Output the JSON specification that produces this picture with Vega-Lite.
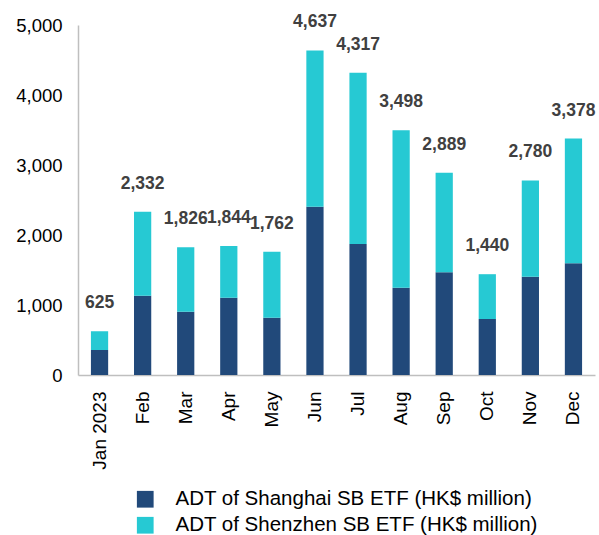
{
  "$schema": "https://vega.github.io/schema/vega-lite/v6.json",
  "width": 517,
  "height": 350,
  "autosize": {"type": "none"},
  "padding": {"left": 78, "top": 25, "right": 4, "bottom": 160},
  "background": "white",
  "config": {
    "view": {"stroke": null},
    "font": "Liberation Sans"
  },
  "datasets": {
    "bars": [
      {"month": "Jan 2023", "series": "ADT of Shanghai SB ETF (HK$ million)", "value": 357},
      {"month": "Jan 2023", "series": "ADT of Shenzhen SB ETF (HK$ million)", "value": 268},
      {"month": "Feb", "series": "ADT of Shanghai SB ETF (HK$ million)", "value": 1133},
      {"month": "Feb", "series": "ADT of Shenzhen SB ETF (HK$ million)", "value": 1199},
      {"month": "Mar", "series": "ADT of Shanghai SB ETF (HK$ million)", "value": 905},
      {"month": "Mar", "series": "ADT of Shenzhen SB ETF (HK$ million)", "value": 921},
      {"month": "Apr", "series": "ADT of Shanghai SB ETF (HK$ million)", "value": 1105},
      {"month": "Apr", "series": "ADT of Shenzhen SB ETF (HK$ million)", "value": 739},
      {"month": "May", "series": "ADT of Shanghai SB ETF (HK$ million)", "value": 819},
      {"month": "May", "series": "ADT of Shenzhen SB ETF (HK$ million)", "value": 943},
      {"month": "Jun", "series": "ADT of Shanghai SB ETF (HK$ million)", "value": 2405},
      {"month": "Jun", "series": "ADT of Shenzhen SB ETF (HK$ million)", "value": 2232},
      {"month": "Jul", "series": "ADT of Shanghai SB ETF (HK$ million)", "value": 1871},
      {"month": "Jul", "series": "ADT of Shenzhen SB ETF (HK$ million)", "value": 2446},
      {"month": "Aug", "series": "ADT of Shanghai SB ETF (HK$ million)", "value": 1248},
      {"month": "Aug", "series": "ADT of Shenzhen SB ETF (HK$ million)", "value": 2250},
      {"month": "Sep", "series": "ADT of Shanghai SB ETF (HK$ million)", "value": 1467},
      {"month": "Sep", "series": "ADT of Shenzhen SB ETF (HK$ million)", "value": 1422},
      {"month": "Oct", "series": "ADT of Shanghai SB ETF (HK$ million)", "value": 800},
      {"month": "Oct", "series": "ADT of Shenzhen SB ETF (HK$ million)", "value": 640},
      {"month": "Nov", "series": "ADT of Shanghai SB ETF (HK$ million)", "value": 1405},
      {"month": "Nov", "series": "ADT of Shenzhen SB ETF (HK$ million)", "value": 1375},
      {"month": "Dec", "series": "ADT of Shanghai SB ETF (HK$ million)", "value": 1595},
      {"month": "Dec", "series": "ADT of Shenzhen SB ETF (HK$ million)", "value": 1783}
    ],
    "totals": [
      {"month": "Jan 2023", "total": 625},
      {"month": "Feb", "total": 2332},
      {"month": "Mar", "total": 1826},
      {"month": "Apr", "total": 1844},
      {"month": "May", "total": 1762},
      {"month": "Jun", "total": 4637},
      {"month": "Jul", "total": 4317},
      {"month": "Aug", "total": 3498},
      {"month": "Sep", "total": 2889},
      {"month": "Oct", "total": 1440},
      {"month": "Nov", "total": 2780},
      {"month": "Dec", "total": 3378}
    ]
  },
  "encoding": {
    "x": {
      "field": "month",
      "type": "nominal",
      "sort": ["Jan 2023", "Feb", "Mar", "Apr", "May", "Jun", "Jul", "Aug", "Sep", "Oct", "Nov", "Dec"],
      "scale": {"paddingInner": 0.6, "paddingOuter": 0.3},
      "axis": {
        "title": null,
        "labelAngle": -90,
        "labelFontSize": 19,
        "labelColor": "#000000",
        "labelPadding": 16,
        "ticks": false,
        "domainColor": "#BFBFBF",
        "domainWidth": 1.5
      }
    }
  },
  "layer": [
    {
      "data": {"name": "bars"},
      "mark": {"type": "bar"},
      "encoding": {
        "y": {
          "field": "value",
          "type": "quantitative",
          "stack": "zero",
          "scale": {"domain": [0, 5000], "nice": false},
          "axis": {
            "title": null,
            "values": [0, 1000, 2000, 3000, 4000, 5000],
            "format": ",.0f",
            "labelFontSize": 18.5,
            "labelColor": "#000000",
            "labelPadding": 16,
            "ticks": false,
            "grid": false,
            "domainColor": "#BFBFBF",
            "domainWidth": 1.5
          }
        },
        "color": {
          "field": "series",
          "type": "nominal",
          "scale": {
            "domain": ["ADT of Shanghai SB ETF (HK$ million)", "ADT of Shenzhen SB ETF (HK$ million)"],
            "range": ["#21497A", "#26C9D3"]
          },
          "legend": {
            "title": null,
            "orient": "none",
            "legendX": 57,
            "legendY": 464,
            "direction": "vertical",
            "symbolType": "square",
            "symbolSize": 280,
            "symbolStrokeWidth": 0,
            "symbolOpacity": 1,
            "labelFontSize": 20.5,
            "labelColor": "#000000",
            "labelOffset": 20,
            "labelLimit": 600,
            "rowPadding": 5
          }
        },
        "order": {"field": "series", "sort": "ascending"}
      }
    },
    {
      "data": {"name": "totals"},
      "mark": {
        "type": "text",
        "fontWeight": "bold",
        "fontSize": 17.5,
        "color": "#404040",
        "baseline": "middle",
        "dy": -28
      },
      "encoding": {
        "y": {"field": "total", "type": "quantitative"},
        "text": {"field": "total", "type": "quantitative", "format": ",.0f"}
      }
    }
  ]
}
